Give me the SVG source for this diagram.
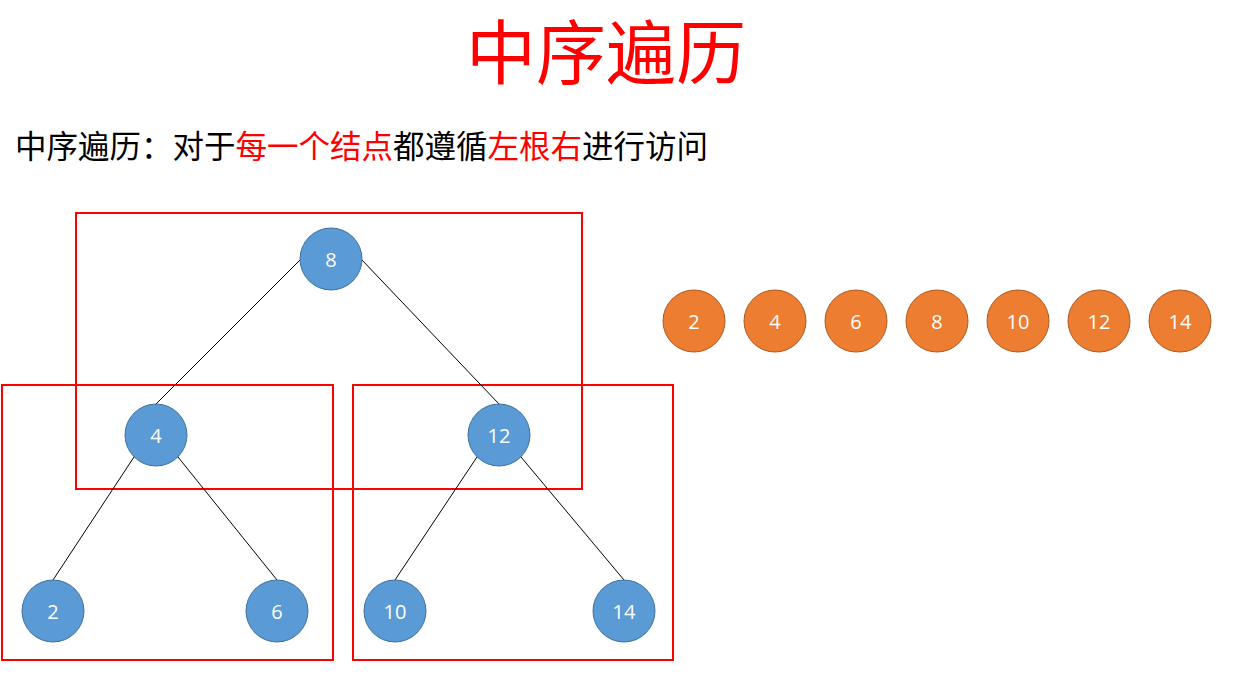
<svg xmlns="http://www.w3.org/2000/svg" width="1233" height="680" viewBox="0 0 1233 680">
<style>
.title{font-family:"Noto Sans CJK SC",sans-serif;font-size:70px;fill:#FF0000}
.sub{font-family:"Noto Sans CJK SC",sans-serif;font-size:31.5px;fill:#000}
.red{fill:#FF0000}
.box{fill:none;stroke:#FF0000;stroke-width:2}
.edge{stroke:#000;stroke-width:1;fill:none}
.bn{fill:#5B9BD5;stroke:#41719C;stroke-width:1}
.on{fill:#ED7D31;stroke:#AE5A21;stroke-width:1}
.lbl{font-family:"Open Sans","Liberation Sans",sans-serif;font-size:20px;fill:#fff;text-anchor:middle;dominant-baseline:central}
</style>
<rect width="1233" height="680" fill="#fff"/>
<text class="title" x="606" y="79" text-anchor="middle">中序遍历</text>
<text class="sub" x="15" y="158">中序遍历：对于<tspan class="red">每一个结点</tspan>都遵循<tspan class="red">左根右</tspan>进行访问</text>
<g id="frames">
<rect class="box" x="76" y="213" width="506" height="276"/>
<rect class="box" x="2" y="385" width="331" height="275"/>
<rect class="box" x="353" y="385" width="320" height="275"/>
</g>
<g id="connectors">
<line class="edge" x1="300" y1="260" x2="156" y2="404"/>
<line class="edge" x1="362" y1="260" x2="499" y2="404"/>
<line class="edge" x1="134" y1="457" x2="53" y2="580"/>
<line class="edge" x1="178" y1="457" x2="277" y2="580"/>
<line class="edge" x1="477" y1="457" x2="395" y2="580"/>
<line class="edge" x1="521" y1="457" x2="624" y2="580"/>
</g>
<g id="n8"><circle class="bn" cx="331" cy="259" r="31"/><text class="lbl" x="331" y="259">8</text></g>
<g id="n4"><circle class="bn" cx="156" cy="435" r="31"/><text class="lbl" x="156" y="435">4</text></g>
<g id="n12"><circle class="bn" cx="499" cy="435" r="31"/><text class="lbl" x="499" y="435">12</text></g>
<g id="n2"><circle class="bn" cx="53" cy="611" r="31"/><text class="lbl" x="53" y="611">2</text></g>
<g id="n6"><circle class="bn" cx="277" cy="611" r="31"/><text class="lbl" x="277" y="611">6</text></g>
<g id="n10"><circle class="bn" cx="395" cy="611" r="31"/><text class="lbl" x="395" y="611">10</text></g>
<g id="n14"><circle class="bn" cx="624" cy="611" r="31"/><text class="lbl" x="624" y="611">14</text></g>
<g id="o2"><circle class="on" cx="694" cy="321" r="31"/><text class="lbl" x="694" y="321">2</text></g>
<g id="o4"><circle class="on" cx="775" cy="321" r="31"/><text class="lbl" x="775" y="321">4</text></g>
<g id="o6"><circle class="on" cx="856" cy="321" r="31"/><text class="lbl" x="856" y="321">6</text></g>
<g id="o8"><circle class="on" cx="937" cy="321" r="31"/><text class="lbl" x="937" y="321">8</text></g>
<g id="o10"><circle class="on" cx="1018" cy="321" r="31"/><text class="lbl" x="1018" y="321">10</text></g>
<g id="o12"><circle class="on" cx="1099" cy="321" r="31"/><text class="lbl" x="1099" y="321">12</text></g>
<g id="o14"><circle class="on" cx="1180" cy="321" r="31"/><text class="lbl" x="1180" y="321">14</text></g>
</svg>
